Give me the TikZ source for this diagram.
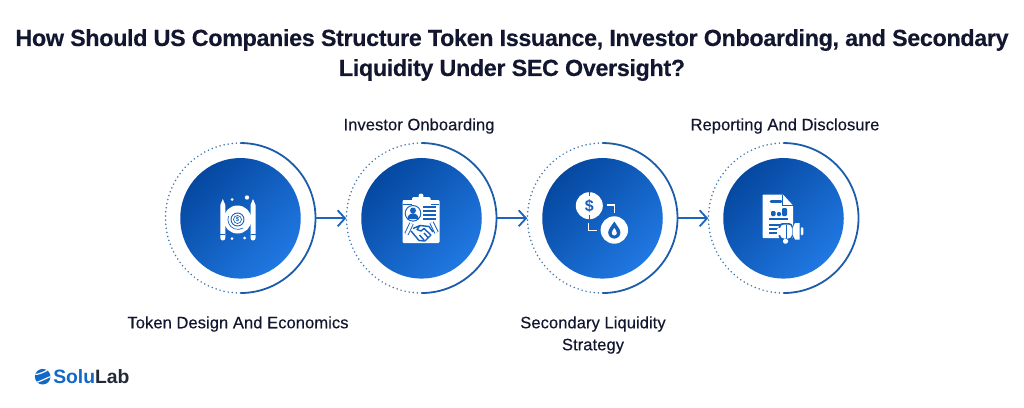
\documentclass[tikz,border=0pt]{standalone}
\usepackage{fontspec}
\setmainfont{Liberation Sans}
\newfontfamily\titlefont[LetterSpace=-1.5,FakeBold=0.25]{Liberation Sans Bold}
\newfontfamily\labelfont[FakeBold=0.35,LetterSpace=0.4]{Liberation Sans}
\usetikzlibrary{arrows.meta}
\definecolor{inkdark}{HTML}{12172F}
\definecolor{ringblue}{HTML}{1B5CAB}
\definecolor{dotblue}{HTML}{3F74AE}
\definecolor{arrowblue}{HTML}{1C64BC}
\definecolor{logoblue}{HTML}{1268C4}
\definecolor{logodark}{HTML}{222A38}
\definecolor{diskA}{HTML}{0548A0}
\definecolor{diskB}{HTML}{2078E2}
\definecolor{diskC}{HTML}{1560BC}
\tikzset{
  disc/.style={circle,minimum size=120.5*0.75pt,inner sep=0pt,draw=none,
    top color=diskA,bottom color=diskB,shading angle=45},
  anchorring/.style={circle,minimum size=150*0.75pt,inner sep=0pt,draw=none},
  solidarc/.style={ringblue,line width=1.35pt},
  dotarc/.style={dotblue,line width=1.3pt,line cap=round,dash pattern=on 0pt off 3.1pt},
  flow/.style={arrowblue,line width=1.35pt,-{Straight Barb[length=5.5pt,width=12pt,line width=1.35pt]}},
  titletext/.style={font=\fontsize{17.5pt}{22.5pt}\titlefont,text=inkdark,align=center},
  labeltext/.style={font=\fontsize{12.4pt}{16.5pt}\labelfont,text=inkdark,align=center},
  ico/.style={fill=white,draw=none},
  cut/.style={fill=diskC,draw=none},
  cutline/.style={diskC,line width=0.8pt}
}
\begin{document}
\begin{tikzpicture}[x=0.75pt,y=-0.75pt]
\useasboundingbox (0,0) rectangle (1024,407);
\node[titletext] (title) at (512,55) {How Should US Companies Structure Token Issuance, Investor Onboarding, and Secondary\\Liquidity Under SEC Oversight?};
% rings
\foreach \n/\cx/\ix in {r1/240.5/a, r2/421.5/b, r3/602.5/c, r4/783.5/d}{
  \node[anchorring] (\n) at (\cx,218.3) {};
  \node[disc] (\ix) at (\cx,218.3) {};
  \draw[solidarc] (\n.north) arc[start angle=90,end angle=-90,radius=75*0.75pt];
  \draw[dotarc] (\n.north) arc[start angle=90,end angle=270,radius=75*0.75pt];
}
\draw[flow] (r1.east) -- (r2.west);
\draw[flow] (r2.east) -- (r3.west);
\draw[flow] (r3.east) -- (r4.west);
% labels
\node[labeltext] (l1) at (238,324) {Token Design And Economics};
\node[labeltext] (l2) at (419,126) {Investor Onboarding};
\node[labeltext] (l3) at (593,335) {Secondary Liquidity\\Strategy};
\node[labeltext] (l4) at (785,126) {Reporting And Disclosure};
% icon 1
\begin{scope}
 \fill[ico] (237.5,219.5) circle[radius=14];
 \draw[cutline,line width=0.7pt] (237.5,219.5) circle[radius=6.5];
 \draw[cutline,line width=0.5pt] (237.5,219.5) circle[radius=4];
 \draw[cutline,line width=0.5pt] (228.5,216) arc[start angle=200,end angle=60,radius=10];
 \node[font=\fontsize{4.5pt}{4.5pt}\selectfont\bfseries,text=diskC,inner sep=0pt] (dol1) at (237.5,219.5) {\$};
 \foreach \x in {222.8,253}{
  \fill[ico] (\x-2.5,205) -- (\x,199) -- (\x+2.5,205) -- (\x+2.5,238) arc[start angle=0,end angle=180,radius=2.5] -- cycle;
  \draw[cutline] (\x-2.5,234.5) -- (\x+2.5,234.5);
 }
 \fill[ico] (232,199.5) circle[radius=1.5] (247,197.5) circle[radius=2.2] (232,238.5) circle[radius=1.5] (244.5,238) circle[radius=1.5];
\end{scope}
% icon 2
\begin{scope}
 \fill[ico,rounded corners=0.8pt] (402.5,200) rectangle (439.5,243);
 \fill[ico,rounded corners=1pt] (412,197) rectangle (430.5,204.5);
 \fill[ico] (421,196) circle[radius=2.5];
 \draw[cutline] (402.8,204.6) -- (412,204.6) (430.5,204.6) -- (439.2,204.6);
 \fill[cut] (413,213.3) circle[radius=8.3];
 \fill[ico] (413,213.3) circle[radius=7.2];
 \fill[cut] (413,210.5) circle[radius=3];
 \fill[cut] (407.3,219) arc[start angle=180,end angle=360,radius=5.7] -- cycle;
 \draw[cutline,line width=1pt] (423,207) -- (435.5,207) (423,211) -- (435.5,211) (423,215) -- (435.5,215) (423,219) -- (435.5,219);
 \draw[diskC,line width=3.4pt] (406.5,234) -- (411.5,223.5);
 \draw[white,line width=2pt] (406.5,234) -- (411.5,223.5);
 \draw[diskC,line width=3.4pt] (436.5,232.5) -- (431.5,222.5);
 \draw[white,line width=2pt] (436.5,232.5) -- (431.5,222.5);
 \draw[diskC,line width=1.05pt,line join=round] (413,228.5) -- (420,225.5) -- (429,226.5) -- (433,232)
   (420,225.5) -- (417,229.5) -- (421,231) -- (424,228.5) -- (431,235)
   (411,231) -- (419,240.5) -- (425,241) -- (431,235)
   (419.5,235) -- (424,240) (424,233) -- (428.5,238);
\end{scope}
% icon 3
\begin{scope}
 \fill[ico] (589.3,205.7) circle[radius=13.5];
 \draw[diskC,line width=1.2pt] (589.3,191) -- (589.3,196) (589.3,215) -- (589.3,221);
 \node[font=\fontsize{12pt}{12pt}\selectfont\bfseries,text=diskC,inner sep=0pt] (dol3) at (589.3,205.7) {\$};
 \fill[ico] (614.3,230) circle[radius=13.7];
 \fill[cut] (614.3,221.5) .. controls (611,226.5) and (608.2,229.5) .. (608.2,232.5) arc[start angle=180,end angle=0,radius=6.1] .. controls (620.4,229.5) and (617.6,226.5) .. cycle;
 \fill[ico] (614.3,228) .. controls (613,230) and (611.8,231.5) .. (611.8,233) arc[start angle=180,end angle=0,radius=2.5] .. controls (616.8,231.5) and (615.6,230) .. cycle;
 \draw[white,line width=1.2pt] (606.5,205) -- (614.5,205) -- (614.5,213);
 \draw[white,line width=1.2pt] (588.5,223) -- (588.5,230.5) -- (596.5,230.5);
\end{scope}
% icon 4
\begin{scope}
 \fill[ico,rounded corners=0.6pt] (762.5,194.5) -- (783,194.5) -- (793,205.5) -- (793,238) -- (762.5,238) -- cycle;
 \draw[cutline,line width=0.9pt] (782.5,194.5) -- (782.5,205.5) -- (793,205.5);
 \draw[cutline,line width=2pt,line cap=round] (771,201.5) -- (781,201.5);
 \fill[cut,rounded corners=0.8pt] (771,211) rectangle (775.5,216) (777,212) rectangle (781,216) (782,208) rectangle (787,216);
 \draw[cutline,line width=0.9pt] (769,219) -- (788,219) (769,225) -- (782,225) (769,229) -- (780,229) (769,233) -- (780,233);
 \fill[cut,rounded corners=3pt] (778.5,223) rectangle (793,240);
 \fill[ico,rounded corners=3pt] (780,224.5) rectangle (792,238.5);
 \fill[ico,rounded corners=1pt] (777,228) rectangle (781,235);
 \fill[ico] (792.5,228.5) -- (795,223) -- (799.5,223) -- (799.5,239.5) -- (795,239.5) -- (792.5,234.5) -- cycle;
 \fill[ico,rounded corners=1pt] (800.8,227) rectangle (803.3,235.5);
 \fill[ico,rounded corners=1pt] (783,239) rectangle (788,243.5);
 \draw[cutline,line width=0.6pt] (786,224.5) -- (786,238.5);
\end{scope}
% logo
\begin{scope}
 \fill[logoblue] (42.7,376.7) circle[radius=7.8];
 \begin{scope}
  \clip (42.7,376.7) circle[radius=7.8];
  \draw[white,line width=0.9pt] (33,374) .. controls (38,376) and (45,371) .. (52,368);
  \draw[white,line width=0.9pt] (34,383) .. controls (40,382) and (46,378) .. (52,376);
 \end{scope}
 \node[font=\fontsize{14.5pt}{16pt}\selectfont\bfseries,inner sep=0pt,anchor=west] (logotext) at (53,377) {\textcolor{logoblue}{Solu}\textcolor{logodark}{Lab}};
\end{scope}
\end{tikzpicture}
\end{document}
